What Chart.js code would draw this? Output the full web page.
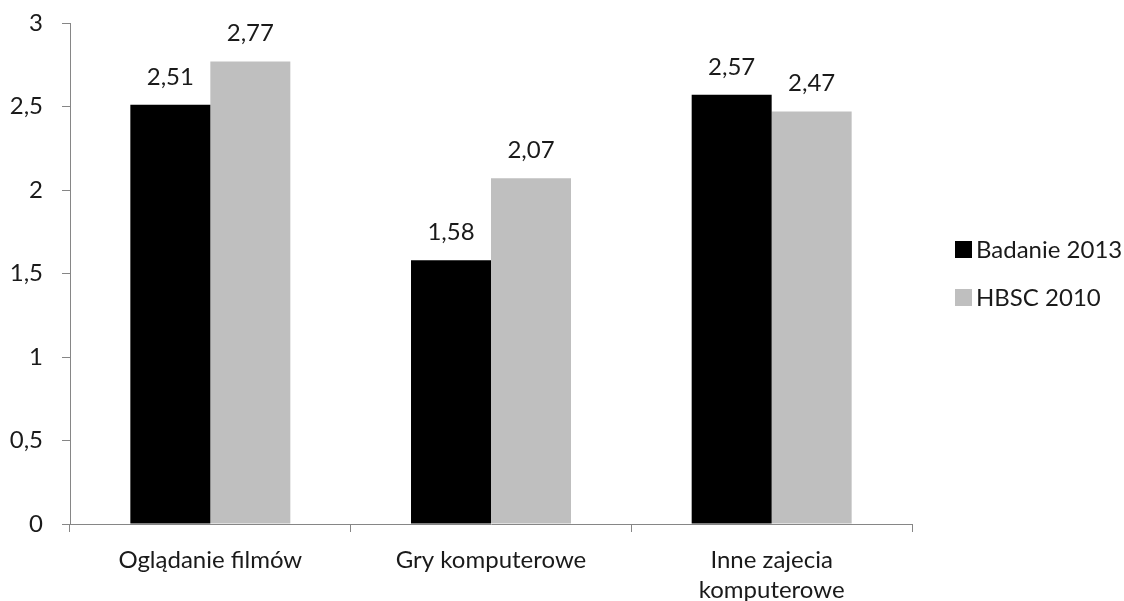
<!DOCTYPE html>
<html>
<head>
<meta charset="utf-8">
<script src="https://cdn.jsdelivr.net/npm/chart.js@4/dist/chart.umd.min.js"></script>
<style>
html,body{margin:0;padding:0;background:#fff;}
#wrap{width:1124px;height:601px;position:relative;}
</style>
</head>
<body>
<div id="wrap"><canvas id="c" width="1124" height="601"></canvas></div>
<script>
const categories = ["Oglądanie filmów", "Gry komputerowe", ["Inne zajecia", "komputerowe"]];
const seriesNames = ["Badanie 2013", "HBSC 2010"];
const seriesColors = ["#000000", "#BFBFBF"];
const badanie2013 = [2.51, 1.58, 2.57];
const hbsc2010 = [2.77, 2.07, 2.47];
const yTicks = [0, 0.5, 1, 1.5, 2, 2.5, 3];

const FONT = "Lato, 'Open Sans', sans-serif";
const TEXT = "#1a1a1a";
const fmt = v => String(v).replace('.', ',');

const valueLabels = {
  id: 'valueLabels',
  afterDatasetsDraw(chart) {
    const ctx = chart.ctx;
    ctx.save();
    ctx.font = "24px " + FONT;
    ctx.fillStyle = TEXT;
    ctx.textAlign = "center";
    ctx.textBaseline = "middle";
    chart.data.datasets.forEach((ds, i) => {
      const meta = chart.getDatasetMeta(i);
      meta.data.forEach((bar, j) => {
        ctx.fillText(fmt(ds.data[j]), bar.x, bar.y - 28);
      });
    });
    ctx.restore();
  }
};

const sideLegend = {
  id: 'sideLegend',
  afterDraw(chart) {
    const ctx = chart.ctx;
    const ca = chart.chartArea;
    const x0 = ca.right + 43;
    const yMid = (ca.top + ca.bottom) / 2;
    const gap = 48;
    ctx.save();
    ctx.font = "24px " + FONT;
    ctx.textBaseline = "middle";
    ctx.textAlign = "left";
    chart.data.datasets.forEach((ds, i) => {
      const cy = yMid + (i - (chart.data.datasets.length - 1) / 2) * gap;
      ctx.fillStyle = ds.backgroundColor;
      ctx.fillRect(x0, cy - 8.5, 17, 17);
      ctx.fillStyle = TEXT;
      ctx.fillText(ds.label, x0 + 21, cy + 1);
    });
    ctx.restore();
  }
};

new Chart(document.getElementById('c'), {
  type: 'bar',
  data: {
    labels: categories,
    datasets: [
      { label: seriesNames[0], data: badanie2013, backgroundColor: seriesColors[0], borderWidth: 0 },
      { label: seriesNames[1], data: hbsc2010, backgroundColor: seriesColors[1], borderWidth: 0 }
    ]
  },
  options: {
    responsive: false,
    animation: false,
    devicePixelRatio: 1,
    layout: { padding: { top: 23, left: 0, right: 212, bottom: 0 } },
    datasets: { bar: { categoryPercentage: 0.57, barPercentage: 1.0 } },
    plugins: {
      legend: { display: false },
      tooltip: { enabled: false }
    },
    scales: {
      x: {
        grid: { display: true, drawOnChartArea: false, offset: true, tickLength: 8, color: '#868686', lineWidth: 1 },
        border: { display: true, color: '#868686', width: 1 },
        ticks: { color: TEXT, font: { family: FONT, size: 24, lineHeight: 1.25 }, padding: 13, maxRotation: 0, autoSkip: false },
        afterFit(scale) { scale.height = 77; scale.paddingLeft = 0; scale.paddingRight = 0; }
      },
      y: {
        min: 0, max: 3,
        afterBuildTicks(scale) { scale.ticks = yTicks.map(v => ({ value: v })); },
        grid: { display: true, drawOnChartArea: false, tickLength: 8, color: '#868686', lineWidth: 1 },
        border: { display: true, color: '#868686', width: 1 },
        ticks: { color: TEXT, font: { family: FONT, size: 24 }, padding: 19, callback: v => fmt(v) },
        afterFit(scale) { scale.width = 70; scale.paddingTop = 0; scale.paddingBottom = 0; }
      }
    }
  },
  plugins: [valueLabels, sideLegend]
});
</script>
</body>
</html>
